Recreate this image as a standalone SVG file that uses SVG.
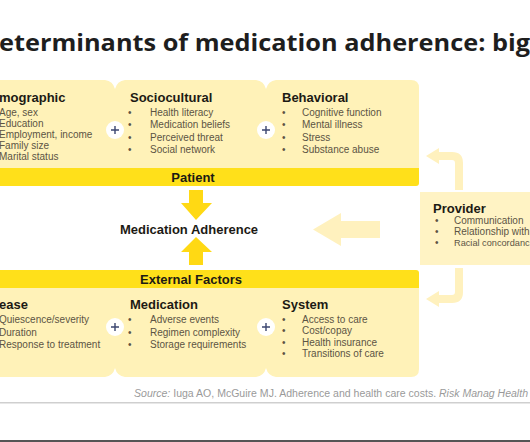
<svg xmlns="http://www.w3.org/2000/svg" width="530" height="442" viewBox="0 0 530 442">
<style>
.title{font-family:"Open Sans","Liberation Sans",sans-serif;font-weight:700;font-size:24px;fill:#1e1e1e}
.h{font-family:"Liberation Sans",Arial,sans-serif;font-weight:700;font-size:13px;fill:#1c1a14}
.it{font-family:"Liberation Sans",Arial,sans-serif;font-size:10px;fill:#5c5444}
.bar{fill:#FFE01A}
.panel{fill:#FFF2B8}
.pale{fill:#FFF3C4}
.plusc{fill:#ffffff}
.plus{stroke:#3b4670;stroke-width:1.4;fill:none}
.src{font-family:"Liberation Sans",Arial,sans-serif;font-size:10px;fill:#9a9a9a}
</style>
<rect x="0" y="0" width="530" height="442" fill="#ffffff"/>
<text class="title" x="-1" y="51" textLength="531" lengthAdjust="spacingAndGlyphs">eterminants of medication adherence: big</text>

<!-- upper panel background -->
<path class="panel" d="M-5,80 L411,80 Q419,80 419,88 L419,168 L-5,168 Z"/>
<path fill="#ffffff" d="M105,80 Q113,81 115,89 Q117,81 125,80 Z"/>
<path fill="#ffffff" d="M256,80 Q264,81 266,89 Q268,81 276,80 Z"/>
<!-- lower panel background -->
<path class="panel" d="M-5,288 L419,288 L419,369 Q419,377 411,377 L-5,377 Z"/>
<path fill="#ffffff" d="M105,377 Q113,376 115,368 Q117,376 125,377 Z"/>
<path fill="#ffffff" d="M256,377 Q264,376 266,368 Q268,376 276,377 Z"/>

<g id="demographic">
<text class="h" x="-1" y="102">mographic</text>
<text class="it" x="-1" y="116">Age, sex</text>
<text class="it" x="-1" y="127">Education</text>
<text class="it" x="-1" y="138">Employment, income</text>
<text class="it" x="-1" y="149">Family size</text>
<text class="it" x="-1" y="160">Marital status</text>
</g>
<g id="sociocultural">
<text class="h" x="130" y="102">Sociocultural</text>
<text class="it" x="128" y="116">•</text><text class="it" x="150" y="116">Health literacy</text>
<text class="it" x="128" y="128">•</text><text class="it" x="150" y="128">Medication beliefs</text>
<text class="it" x="128" y="141">•</text><text class="it" x="150" y="141">Perceived threat</text>
<text class="it" x="128" y="153">•</text><text class="it" x="150" y="153">Social network</text>
</g>
<g id="behavioral">
<text class="h" x="282" y="102">Behavioral</text>
<text class="it" x="282" y="116">•</text><text class="it" x="302" y="116">Cognitive function</text>
<text class="it" x="282" y="128">•</text><text class="it" x="302" y="128">Mental illness</text>
<text class="it" x="282" y="141">•</text><text class="it" x="302" y="141">Stress</text>
<text class="it" x="282" y="153">•</text><text class="it" x="302" y="153">Substance abuse</text>
</g>
<g id="plus-upper">
<circle class="plusc" cx="115" cy="130" r="9"/><path class="plus" d="M111,130 H119 M115,126 V134"/>
<circle class="plusc" cx="266" cy="130" r="9"/><path class="plus" d="M262,130 H270 M266,126 V134"/>
</g>
<g id="patient">
<path class="bar" d="M-5,168 L419,168 L419,183 Q419,186 416,186 L-5,186 Z"/>
<text class="h" x="193" y="182" text-anchor="middle">Patient</text>
</g>
<g id="adherence">
<text class="h" x="189" y="234" text-anchor="middle">Medication Adherence</text>
</g>
<g id="external">
<path class="bar" d="M-5,270 L416,270 Q419,270 419,273 L419,288 L-5,288 Z"/>
<text class="h" x="191" y="284" text-anchor="middle">External Factors</text>
</g>
<g id="disease">
<text class="h" x="-1" y="309">ease</text>
<text class="it" x="-1" y="323">Quiescence/severity</text>
<text class="it" x="-1" y="336">Duration</text>
<text class="it" x="-1" y="348">Response to treatment</text>
</g>
<g id="medication">
<text class="h" x="130" y="309">Medication</text>
<text class="it" x="128" y="323">•</text><text class="it" x="150" y="323">Adverse events</text>
<text class="it" x="128" y="336">•</text><text class="it" x="150" y="336">Regimen complexity</text>
<text class="it" x="128" y="348">•</text><text class="it" x="150" y="348">Storage requirements</text>
</g>
<g id="system">
<text class="h" x="282" y="309">System</text>
<text class="it" x="282" y="323">•</text><text class="it" x="302" y="323">Access to care</text>
<text class="it" x="282" y="334">•</text><text class="it" x="302" y="334">Cost/copay</text>
<text class="it" x="282" y="346">•</text><text class="it" x="302" y="346">Health insurance</text>
<text class="it" x="282" y="357">•</text><text class="it" x="302" y="357">Transitions of care</text>
</g>
<g id="plus-lower">
<circle class="plusc" cx="115" cy="327" r="9"/><path class="plus" d="M111,327 H119 M115,323 V331"/>
<circle class="plusc" cx="266" cy="327" r="9"/><path class="plus" d="M262,327 H270 M266,323 V331"/>
</g>
<g id="provider">
<rect class="pale" x="420" y="192" width="110" height="73"/>
<text class="h" x="433" y="213">Provider</text>
<text class="it" x="435" y="224">•</text><text class="it" x="454" y="224">Communication</text>
<text class="it" x="435" y="235">•</text><text class="it" x="454" y="235">Relationship with</text>
<text class="it" x="435" y="246">•</text><text class="it" x="454" y="246" style="font-size:9.2px">Racial concordanc</text>
</g>

<g id="connectors">
<path fill="#FFD914" d="M189,190 H203 V203 H212 L196,220 L181,203 H189 Z"/>
<path fill="#FFD914" d="M189,265 H203 V252 H212 L196,237 L181,252 H189 Z"/>
<path fill="#FFF1BE" d="M380,221 V238 H341 V246 L313,229.5 L341,213 V221 Z"/>
<path fill="none" stroke="#FFF1BE" stroke-width="8" d="M459,190 V163 Q459,156 452,156 H438"/>
<path fill="#FFF1BE" d="M439,148 L426,156 L439,164 Z"/>
<path fill="none" stroke="#FFF1BE" stroke-width="8" d="M459,268 V292 Q459,299 452,299 H438"/>
<path fill="#FFF1BE" d="M439,291 L426,299 L439,307 Z"/>
</g>

<text class="src" x="134" y="397" textLength="394" lengthAdjust="spacingAndGlyphs"><tspan font-style="italic">Source:</tspan> Iuga AO, McGuire MJ. Adherence and health care costs. <tspan font-style="italic">Risk Manag Health</tspan></text>
<rect x="0" y="402" width="530" height="1.5" fill="#cfcfcf"/>
<rect x="0" y="440" width="530" height="2" fill="#555555"/>
</svg>
